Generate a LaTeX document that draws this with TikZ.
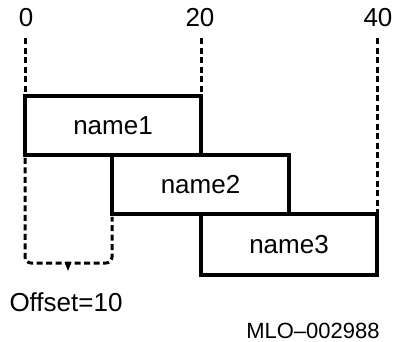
\documentclass[tikz,border=0pt]{standalone}
\usepackage{fontspec}
\setmainfont{Liberation Sans}
\begin{document}
\begin{tikzpicture}[x=1pt,y=-1pt,
  txt/.style={font=\fontsize{26}{30}\selectfont, inner sep=0pt},
  small/.style={font=\fontsize{22}{26}\selectfont, inner sep=0pt},
  field/.style={draw, line width=4.6pt, outer sep=0pt, inner sep=0pt,
    font=\fontsize{26}{30}\selectfont},
  guide/.style={line width=3pt, dash pattern=on 6pt off 3.5pt},
]
\useasboundingbox[fill=white] (0,0) rectangle (394,342);
% scale labels
\node[txt] (l0) at (26,18) {0};
\node[txt] (l20) at (200,18) {20};
\node[txt] (l40) at (378,18) {40};
% fields
\node[field, minimum width=176pt, minimum height=59pt] (n1) at (113,125.5) {name1};
\node[field, minimum width=177pt, minimum height=59pt] (n2) at (200.5,184.5) {name2};
\node[field, minimum width=176pt, minimum height=61pt] (n3) at (289,244.5) {name3};
% guides
\draw[guide, shorten <=11pt] (n1.north west |- l0.south) -- (n1.north west);
\draw[guide, shorten <=11pt] (n1.north east |- l20.south) -- (n1.north east);
\draw[guide, shorten <=11pt] (n3.north east |- l40.south) -- (n3.north east);
% offset bracket
\coordinate (tk) at (68,271);
\draw[guide, rounded corners=6pt, shorten <=3pt, shorten >=3pt]
  (n1.south west) -- (n1.south west |- 0,263) -- (n2.south west |- 0,263) -- (n2.south west);
\fill ([xshift=-3.5pt]tk |- 0,262) -- ([xshift=3.5pt]tk |- 0,262) -- (tk) -- cycle;
\node[txt] (off) at (66,302) {Offset=10};
\node[small] (mlo) at (313,331) {MLO--002988};
\end{tikzpicture}
\end{document}
